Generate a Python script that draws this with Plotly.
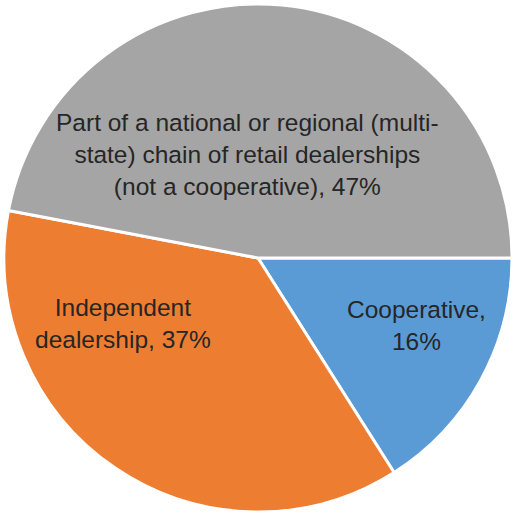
import plotly.graph_objects as go

# Dealership ownership shares (percent)
labels = ["Cooperative", "Independent dealership",
          "Part of a national or regional (multi-state) chain of retail dealerships (not a cooperative)"]
values = [16, 37, 47]
colors = ["#5B9BD5", "#ED7D31", "#A5A5A5"]

# Wrapped label lines for each slice
label_lines = [
    ["Cooperative,"],
    ["Independent", "dealership,"],
    ["Part of a national or regional (multi-", "state) chain of retail dealerships",
     "(not a cooperative),"],
]
label_pos = [(0.808, 0.365), (0.239, 0.370), (0.480, 0.698)]

W, H = 515, 513

fig = go.Figure(go.Pie(
    labels=labels,
    values=values,
    sort=False,
    direction="clockwise",
    rotation=90,
    marker=dict(colors=colors, line=dict(color="white", width=3)),
    textinfo="none",
    hoverinfo="label+percent",
    showlegend=False,
    domain=dict(x=[3 / W, 513 / W], y=[1 / H, 509 / H]),
))

total = sum(values)
for lines, v, (x, y) in zip(label_lines, values, label_pos):
    pct = f"{round(100 * v / total)}%"
    if len(lines) == 1:
        text_lines = lines + [pct]
    else:
        text_lines = lines[:-1] + [lines[-1] + " " + pct]
    fig.add_annotation(
        x=x, y=y, xref="paper", yref="paper",
        xanchor="center", yanchor="middle",
        text="<br>".join(text_lines),
        showarrow=False, align="center",
        font=dict(family="Liberation Sans", size=24.5, color="#262626"),
    )

fig.update_layout(
    width=W, height=H,
    margin=dict(l=0, r=0, t=0, b=0),
    paper_bgcolor="white",
    plot_bgcolor="white",
)

fig.write_html("out.html")
